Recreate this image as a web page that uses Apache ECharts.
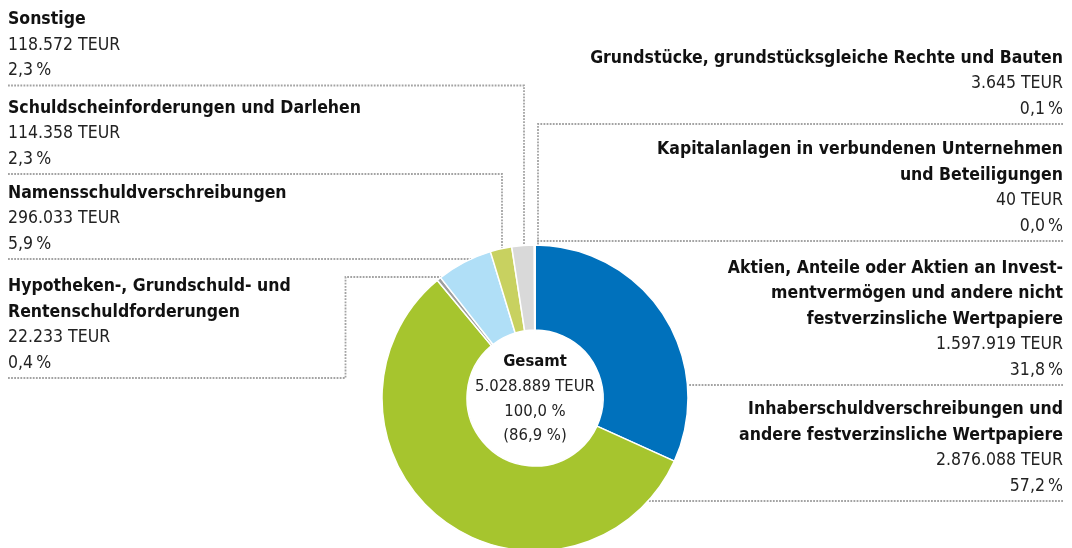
<!DOCTYPE html>
<html><head><meta charset="utf-8">
<script src="https://cdn.jsdelivr.net/npm/echarts@6/dist/echarts.min.js"></script>
<style>html,body{margin:0;padding:0;background:#fff}#c{width:1072px;height:548px}</style>
</head><body><div id="c"></div>
<script>
// ---- data ----
const categories = [
  'Aktien, Anteile oder Aktien an Invest-\nmentvermögen und andere nicht\nfestverzinsliche Wertpapiere',
  'Inhaberschuldverschreibungen und\nandere festverzinsliche Wertpapiere',
  'Hypotheken-, Grundschuld- und\nRentenschuldforderungen',
  'Namensschuldverschreibungen',
  'Schuldscheinforderungen und Darlehen',
  'Sonstige',
  'Grundstücke, grundstücksgleiche Rechte und Bauten',
  'Kapitalanlagen in verbundenen Unternehmen\nund Beteiligungen'
];
const valuesTEUR = [1597919, 2876088, 22233, 296033, 114358, 118572, 3645, 40];
const percents = [31.8, 57.2, 0.4, 5.9, 2.3, 2.3, 0.1, 0.0];
const totalLines = ['Gesamt', '5.028.889 TEUR', '100,0 %', '(86,9 %)'];

// ---- styles / layout ----
const colors = ['#0071bc', '#a6c52e', '#9e9e9e', '#b0dff7', '#c8d160', '#d9d9d9', '#c4c4c4', '#c4c4c4'];
const CX = 535, CY = 398, R0 = 68, R1 = 153;
const LEFT_X = 8, RIGHT_X = 1063;
const FONT = "'DejaVu Sans Condensed', 'Liberation Sans', sans-serif";
const placement = [
  {side: 'right', lineY: 385, path: 'h'},
  {side: 'right', lineY: 501, path: 'h'},
  {side: 'left', lineY: 378, path: 'hook', hookX: 345.5, hookY: 277},
  {side: 'left', lineY: 259, path: 'h'},
  {side: 'left', lineY: 174, path: 'v', vx: 502},
  {side: 'left', lineY: 85.5, path: 'v', vx: 524},
  {side: 'right', lineY: 124, path: 'v', vx: 538},
  {side: 'right', lineY: 241, path: 'v', vx: 538}
];

function fmtNum(v) { return String(v).replace(/\B(?=(\d{3})+(?!\d))/g, '.'); }
function fmtPct(p) { return p.toFixed(1).replace('.', ',') + '\u2009%'; }
function circleX(y, side) { const d = Math.sqrt(Math.max(0, R1 * R1 - (CY - y) * (CY - y))); return side === 'left' ? CX - d : CX + d; }
function circleY(x) { return CY - Math.sqrt(Math.max(0, R1 * R1 - (x - CX) * (x - CX))); }

const chart = echarts.init(document.getElementById('c'), null, {renderer: 'canvas'});
const data = categories.map((name, i) => ({
  name: name, value: valuesTEUR[i], itemStyle: {color: colors[i]}
}));

chart.setOption({
  animation: false,
  backgroundColor: '#fff',
  series: [{
    type: 'pie',
    center: [CX, CY],
    radius: [R0, R1],
    startAngle: 90,
    clockwise: true,
    avoidLabelOverlap: false,
    silent: true,
    itemStyle: {borderColor: '#fff', borderWidth: 1.5},
    data: data,
    label: {
      show: true,
      position: 'outside',
      formatter: function (p) {
        const i = p.dataIndex;
        const lines = p.name.split('\n').map(s => '{b|' + s + '}');
        lines.push('{v|' + fmtNum(valuesTEUR[i]) + ' TEUR}');
        lines.push('{v|' + fmtPct(percents[i]) + '}');
        return lines.join('\n');
      },
      rich: {
        b: {fontFamily: FONT, fontSize: 17.5, fontWeight: 'bold', color: '#111', lineHeight: 25.5},
        v: {fontFamily: FONT, fontSize: 17.5, color: '#222', lineHeight: 25.5}
      }
    },
    labelLine: {
      show: true, length: 10, length2: 10, smooth: false,
      lineStyle: {color: '#a3a3a3', width: 1.8, type: [1.8, 1.3]}
    },
    labelLayout: function (params) {
      const pl = placement[params.dataIndex];
      const edgeX = pl.side === 'left' ? LEFT_X : RIGHT_X;
      let pts;
      if (pl.path === 'h') {
        pts = [[edgeX, pl.lineY], [circleX(pl.lineY, pl.side), pl.lineY]];
      } else if (pl.path === 'v') {
        pts = [[edgeX, pl.lineY], [pl.vx, pl.lineY], [pl.vx, circleY(pl.vx)]];
      } else {
        pts = [[edgeX, pl.lineY], [pl.hookX, pl.lineY], [pl.hookX, pl.hookY], [circleX(pl.hookY, pl.side), pl.hookY]];
      }
      return {
        x: edgeX,
        y: pl.lineY - 2,
        align: pl.side,
        verticalAlign: 'bottom',
        labelLinePoints: pts
      };
    }
  }],
  graphic: [{
    type: 'text',
    x: CX, y: CY + 1,
    style: {
      text: '{g|' + totalLines[0] + '}\n' + totalLines.slice(1).map(s => '{t|' + s + '}').join('\n'),
      align: 'center', verticalAlign: 'middle',
      rich: {
        g: {fontFamily: FONT, fontSize: 16.5, fontWeight: 'bold', fill: '#111', lineHeight: 24.7, align: 'center'},
        t: {fontFamily: FONT, fontSize: 16.5, fill: '#222', lineHeight: 24.7, align: 'center'}
      }
    }
  }]
});
</script>
</body></html>
